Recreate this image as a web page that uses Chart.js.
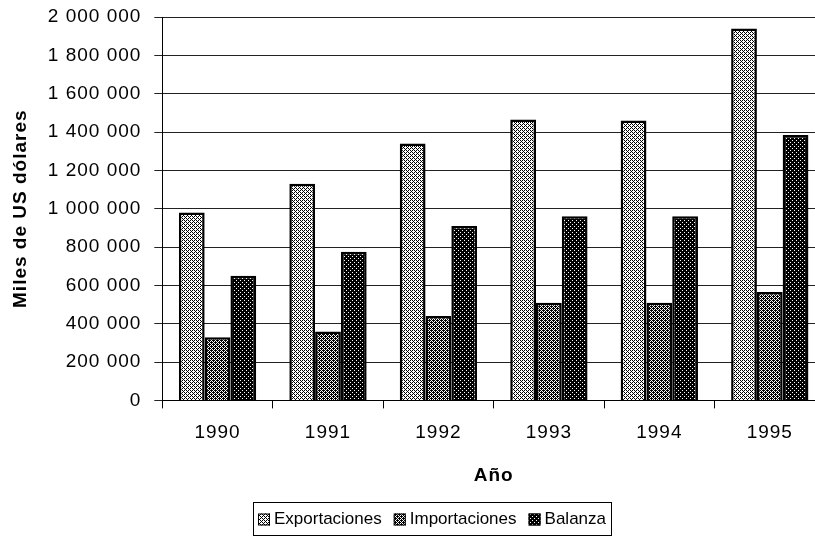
<!DOCTYPE html>
<html>
<head>
<meta charset="utf-8">
<script src="https://cdn.jsdelivr.net/npm/chart.js@4"></script>
<style>
  html, body { margin: 0; padding: 0; background: #fff; overflow: hidden; }
  #wrap { position: relative; width: 830px; height: 536px; }
</style>
</head>
<body>
<div id="wrap"><canvas id="chart1" width="830" height="536"></canvas></div>
<script>
const years = ['1990', '1991', '1992', '1993', '1994', '1995']
const exportaciones = [980000, 1130000, 1340000, 1465000, 1460000, 1940000]
const importaciones = [330000, 360000, 440000, 510000, 510000, 565000]
const balanza = [650000, 775000, 910000, 960000, 960000, 1385000]
const yTicks = [0, 200000, 400000, 600000, 800000, 1000000, 1200000, 1400000, 1600000, 1800000, 2000000]

const FONT = '"Liberation Sans", Arial, sans-serif'

// stippled fills like the scanned bars
function makePattern(cells, invert) {
    const c = document.createElement('canvas')
    c.width = 4
    c.height = 4
    const x = c.getContext('2d')
    x.fillStyle = invert ? '#000' : '#fff'
    x.fillRect(0, 0, 4, 4)
    x.fillStyle = invert ? '#fff' : '#000'
    cells.forEach(([i, j]) => x.fillRect(i, j, 1, 1))
    return x.createPattern(c, 'repeat')
}

const PATTERNS = {
    light: makePattern([[0, 0], [2, 0], [1, 1], [0, 2], [2, 2], [3, 3]]),
    medium: makePattern([[0, 0], [2, 0], [1, 1], [3, 1], [0, 2], [2, 2], [1, 3], [3, 3], [1, 0], [3, 2]]),
    dark: makePattern([[0, 0], [2, 2]], true)
}

const fmt = v => String(v).replace(/\B(?=(\d{3})+(?!\d))/g, ' ')

// the old scan has a little extra letter spacing on axis text
const spacing = {
    id: 'spacing',
    beforeLayout(chart) { chart.ctx.letterSpacing = '1px' },
    beforeDraw(chart) { chart.ctx.letterSpacing = '1px' }
}

// boxed legend under the axis title
const boxLegend = {
    id: 'boxLegend',
    afterDraw(chart) {
        const ctx = chart.ctx
        const left = 253, right = 611, top = 502, bottom = 535
        const sw = 12, sgap = 4, pad = 5
        ctx.save()
        ctx.letterSpacing = '0px'
        ctx.font = '17px ' + FONT
        ctx.textBaseline = 'middle'
        const sets = chart.data.datasets
        const widths = sets.map(ds => ctx.measureText(ds.label).width)
        const used = widths.reduce((a, b) => a + b, 0) + sets.length * (sw + sgap) + 2 * pad
        const gap = (right - left - used) / (sets.length - 1)

        ctx.strokeStyle = '#000'
        ctx.lineWidth = 1
        ctx.strokeRect(left + 0.5, top + 0.5, right - left, bottom - top)

        const cy = (top + bottom) / 2 + 1
        let x = left + pad
        sets.forEach((ds, i) => {
            ctx.fillStyle = ds.backgroundColor
            ctx.fillRect(x, cy - sw / 2, sw, sw)
            ctx.strokeRect(x + 0.5, cy - sw / 2 + 0.5, sw - 1, sw - 1)
            ctx.fillStyle = '#000'
            ctx.fillText(ds.label, x + sw + sgap, cy)
            x += sw + sgap + widths[i] + gap
        })
        ctx.restore()
    }
}

const data = {
    labels: years,
    datasets: [{
        label: 'Exportaciones',
        data: exportaciones,
        backgroundColor: PATTERNS.light
    }, {
        label: 'Importaciones',
        data: importaciones,
        backgroundColor: PATTERNS.medium
    }, {
        label: 'Balanza',
        data: balanza,
        backgroundColor: PATTERNS.dark
    }]
}
data.datasets.forEach(ds => {
    ds.borderColor = '#000'
    ds.borderWidth = 2.5
    ds.categoryPercentage = 0.7
    ds.barPercentage = 1
})

const options = {
    responsive: false,
    animation: false,
    layout: { padding: { left: 5, right: 5, top: 17, bottom: 45 } },
    plugins: {
        legend: { display: false },
        tooltip: { enabled: false }
    },
    scales: {
        x: {
            grid: { display: true, drawOnChartArea: false, tickLength: 8, color: '#000', offset: true },
            border: { color: '#000', width: 1 },
            ticks: { color: '#000', font: { family: FONT, size: 19 }, padding: 13, maxRotation: 0 },
            title: {
                display: true, text: 'Año', color: '#000',
                font: { family: FONT, size: 19, weight: 'bold' },
                padding: { top: 7, bottom: 4 }
            }
        },
        y: {
            min: 0,
            max: 2000000,
            afterBuildTicks: axis => { axis.ticks = yTicks.map(v => ({ value: v })) },
            // top label may sit in the layout padding
            afterFit: axis => { axis.paddingTop = 0 },
            grid: { color: '#222', lineWidth: 1, tickLength: 8 },
            border: { color: '#000', width: 1 },
            ticks: { color: '#000', font: { family: FONT, size: 19 }, padding: 13, callback: v => fmt(v) },
            title: {
                display: true, text: 'Miles de US dólares', color: '#000',
                font: { family: FONT, size: 19, weight: 'bold' },
                padding: { top: 4, bottom: 3 }
            }
        }
    }
}

new Chart('chart1', { type: 'bar', data, options, plugins: [spacing, boxLegend] })
</script>
</body>
</html>
